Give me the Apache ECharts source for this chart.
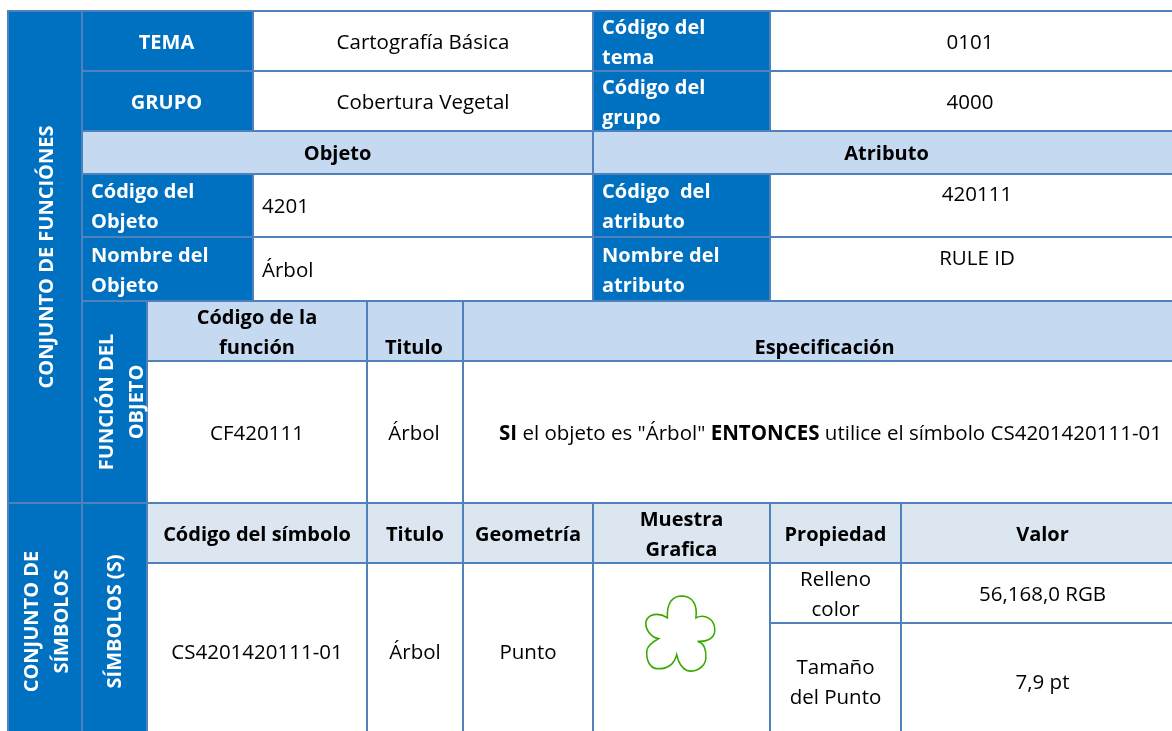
<!DOCTYPE html>
<html>
<head>
<meta charset="utf-8">
<style>html,body{margin:0;padding:0;background:#fff}#main{width:1172px;height:731px}</style>
<script src="https://cdn.jsdelivr.net/npm/echarts@6/dist/echarts.min.js"></script>
</head>
<body>
<div id="main"></div>
<script>
// table grid lines, in axis units
var colEdges = [8, 82, 147, 253, 367, 463, 593, 770, 901, 1180];
var rowEdges = [11, 71, 131, 174, 237, 301, 361, 503, 563, 623, 740];

var DARK = '#0070c0', LIGHT = '#c5d9f1', PALE = '#dce6f1', WHITE = '#ffffff';
var FONT = 'Open Sans', SIZE = 20.5, BOLD_SIZE = 20;

// [text, col from, col to, row from, row to, fill, weight, color, align, rotated, dx, dy]
var cells = [
    ['CONJUNTO DE FUNCIÓNES', 0, 1, 0, 7, DARK, 'bold', WHITE, 'center', 1, 0, 0],
    ['TEMA', 1, 3, 0, 1, DARK, 'bold', WHITE, 'center', 0, -1, 0],
    ['Cartografía Básica', 3, 6, 0, 1, WHITE, 'normal', '#000', 'center', 0, 0, 0],
    ['Código del\ntema', 6, 7, 0, 1, DARK, 'bold', WHITE, 'left', 0, 0, 0],
    ['0101', 7, 9, 0, 1, WHITE, 'normal', '#000', 'center', 0, -5, 0],
    ['GRUPO', 1, 3, 1, 2, DARK, 'bold', WHITE, 'center', 0, -1, 0],
    ['Cobertura Vegetal', 3, 6, 1, 2, WHITE, 'normal', '#000', 'center', 0, 0, 0],
    ['Código del\ngrupo', 6, 7, 1, 2, DARK, 'bold', WHITE, 'left', 0, 0, 0],
    ['4000', 7, 9, 1, 2, WHITE, 'normal', '#000', 'center', 0, -5, 0],
    ['Objeto', 1, 6, 2, 3, LIGHT, 'bold', '#000', 'center', 0, 0, 0],
    ['Atributo', 6, 9, 2, 3, LIGHT, 'bold', '#000', 'center', 0, 0, 0],
    ['Código del\nObjeto', 1, 3, 3, 4, DARK, 'bold', WHITE, 'left', 0, 0, 0],
    ['4201', 3, 6, 3, 4, WHITE, 'normal', '#000', 'left', 0, 0, 0],
    ['Código  del\natributo', 6, 7, 3, 4, DARK, 'bold', WHITE, 'left', 0, 0, 0],
    ['420111', 7, 9, 3, 4, WHITE, 'normal', '#000', 'center', 0, 2, -12],
    ['Nombre del\nObjeto', 1, 3, 4, 5, DARK, 'bold', WHITE, 'left', 0, 0, 0],
    ['Árbol', 3, 6, 4, 5, WHITE, 'normal', '#000', 'left', 0, 0, 0],
    ['Nombre del\natributo', 6, 7, 4, 5, DARK, 'bold', WHITE, 'left', 0, 0, 0],
    ['RULE ID', 7, 9, 4, 5, WHITE, 'normal', '#000', 'center', 0, 2, -12],
    ['FUNCIÓN DEL\nOBJETO', 1, 2, 5, 7, DARK, 'bold', WHITE, 'center', 1, 6, 0],
    ['Código de la\nfunción', 2, 4, 5, 6, LIGHT, 'bold', '#000', 'center', 0, 0, 0],
    ['Titulo', 4, 5, 5, 6, LIGHT, 'bold', '#000', 'center', 0, -1, 15],
    ['Especificación', 5, 9, 5, 6, LIGHT, 'bold', '#000', 'center', 0, 3, 15],
    ['CF420111', 2, 4, 6, 7, WHITE, 'normal', '#000', 'center', 0, 0, 0],
    ['Árbol', 4, 5, 6, 7, WHITE, 'normal', '#000', 'center', 0, -1, 0],
    ['{b|SI} el objeto es "Árbol" {b|ENTONCES} utilice el símbolo CS4201420111-01', 5, 9, 6, 7, WHITE, 'normal', '#000', 'center', 0, 9, 0],
    ['CONJUNTO DE\nSÍMBOLOS', 0, 1, 7, 10, DARK, 'bold', WHITE, 'center', 1, 0, 0],
    ['SÍMBOLOS (S)', 1, 2, 7, 10, DARK, 'bold', WHITE, 'center', 1, -1, 0],
    ['Código del símbolo', 2, 4, 7, 8, PALE, 'bold', '#000', 'center', 0, 0, 0],
    ['Titulo', 4, 5, 7, 8, PALE, 'bold', '#000', 'center', 0, 0, 0],
    ['Geometría', 5, 6, 7, 8, PALE, 'bold', '#000', 'center', 0, 0, 0],
    ['Muestra\nGrafica', 6, 7, 7, 8, PALE, 'bold', '#000', 'center', 0, 0, 0],
    ['Propiedad', 7, 8, 7, 8, PALE, 'bold', '#000', 'center', 0, 0, 0],
    ['Valor', 8, 9, 7, 8, PALE, 'bold', '#000', 'center', 0, 2, 0],
    ['CS4201420111-01', 2, 4, 8, 10, WHITE, 'normal', '#000', 'center', 0, 0, 0],
    ['Árbol', 4, 5, 8, 10, WHITE, 'normal', '#000', 'center', 0, 0, 0],
    ['Punto', 5, 6, 8, 10, WHITE, 'normal', '#000', 'center', 0, 0, 0],
    ['', 6, 7, 8, 10, WHITE, 'normal', '#000', 'center', 0, 0, 0],
    ['Relleno\ncolor', 7, 8, 8, 9, WHITE, 'normal', '#000', 'center', 0, 0, 0],
    ['56,168,0 RGB', 8, 9, 8, 9, WHITE, 'normal', '#000', 'center', 0, 2, 0],
    ['Tamaño\ndel Punto', 7, 8, 9, 10, WHITE, 'normal', '#000', 'center', 0, 0, 0],
    ['7,9 pt', 8, 9, 9, 10, WHITE, 'normal', '#000', 'center', 0, 2, 0]
];

var symbolPoint = [680.3, 633.5];
var symbolPath = 'path://M127 97C125 55 140 32 172 32C205 34 218 60 213 97C240 85 270 100 270 135C270 160 245 170 218 168C238 172 245 195 243 220C240 250 205 262 185 255C170 248 160 230 155 208C148 235 130 250 100 250C75 252 62 225 65 195C68 180 85 168 100 160C75 155 60 130 62 110C68 85 100 80 127 97Z';

var myChart = echarts.init(document.getElementById('main'));

function renderCell(params, api) {
    var c = cells[params.dataIndex];
    var p0 = api.coord([colEdges[c[1]], rowEdges[c[3]]]);
    var p1 = api.coord([colEdges[c[2]], rowEdges[c[4]]]);
    var rotated = c[9] === 1;
    var size = c[6] === 'bold' ? BOLD_SIZE : SIZE;
    // Open Sans sits a little high in its line box, push it down
    var textX = (c[8] === 'left' ? p0[0] + 9 : (p0[0] + p1[0]) / 2) + c[10] + (rotated ? 2 : 0);
    var textY = (p0[1] + p1[1]) / 2 + c[11] + (rotated ? 0 : 2);
    return {
        type: 'group',
        children: [{
            type: 'rect',
            shape: {x: p0[0], y: p0[1], width: p1[0] - p0[0], height: p1[1] - p0[1]},
            style: {fill: c[5], stroke: '#4f81bd', lineWidth: 2}
        }, {
            type: 'text',
            x: textX,
            y: textY,
            rotation: rotated ? Math.PI / 2 : 0,
            z2: 5,
            style: {
                text: c[0],
                fill: c[7],
                fontFamily: FONT,
                fontSize: size,
                fontWeight: c[6],
                lineHeight: 30,
                align: c[8],
                verticalAlign: 'middle',
                rich: {b: {fontWeight: 'bold', fontFamily: FONT, fontSize: SIZE, fill: '#000'}}
            }
        }]
    };
}

var option = {
    animation: false,
    grid: {left: 0, right: 0, top: 0, bottom: 0},
    xAxis: {type: 'value', min: 0, max: 1172, show: false},
    yAxis: {type: 'value', min: 0, max: 731, inverse: true, show: false},
    series: [{
        type: 'custom',
        coordinateSystem: 'cartesian2d',
        clip: true,
        renderItem: renderCell,
        data: cells.map(function (c, i) { return [i]; }),
        encode: {x: 0, y: 0}
    }, {
        type: 'scatter',
        z: 5,
        silent: true,
        data: [symbolPoint],
        symbol: symbolPath,
        symbolSize: [69, 75],
        itemStyle: {color: 'none', borderColor: 'rgb(56,168,0)', borderWidth: 1.6, opacity: 1}
    }]
};

myChart.setOption(option);
</script>
</body>
</html>
